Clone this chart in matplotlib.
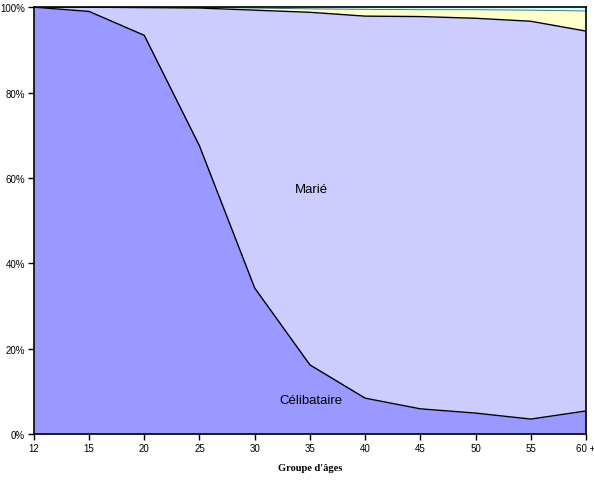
import numpy as np
import matplotlib.pyplot as plt

# Data (percent of each age group)
ages = ["12", "15", "20", "25", "30", "35", "40", "45", "50", "55", "60 +"]
celibataire = [100, 99.0, 93.4, 67.5, 34.2, 16.2, 8.4, 5.9, 4.9, 3.5, 5.4]
marie = [0.0, 1.0, 6.5, 32.3, 65.1, 82.6, 89.5, 91.9, 92.5, 93.2, 89.0]
veuf = [0.0, 0.0, 0.1, 0.15, 0.5, 0.8, 1.6, 1.6, 2.0, 2.6, 4.7]
divorce = [0.0, 0.0, 0.0, 0.05, 0.2, 0.4, 0.5, 0.6, 0.6, 0.7, 0.9]

x = np.arange(len(ages))
c1 = np.array(celibataire)
c2 = c1 + np.array(marie)
c3 = c2 + np.array(veuf)
c4 = c3 + np.array(divorce)

fig = plt.figure(figsize=(5.94, 4.81), dpi=100)
ax = fig.add_axes([0.057, 0.0956, 0.9295, 0.8874])

ax.fill_between(x, 0, c1, color="#9999FF", lw=0)
ax.fill_between(x, c1, c2, color="#CCCCFF", lw=0)
ax.fill_between(x, c2, c3, color="#FFFFCC", lw=0)
ax.fill_between(x, c3, c4, color="#CCFFFF", lw=0)
ax.plot(x, c1, color="black", lw=1)
ax.plot(x, c2, color="black", lw=1)
ax.plot(x, c3, color="#336666", lw=0.6)

ax.text(5.02, 57.4, "Marié", ha="center", va="center", fontsize=9.5, family="Liberation Sans")
ax.text(5.02, 8.0, "Célibataire", ha="center", va="center", fontsize=9.5, family="Liberation Sans")

ax.set_xlim(0, 10)
ax.set_ylim(0, 100)
ax.set_xticks(x)
ax.set_xticklabels(ages, fontsize=7, family="Liberation Sans")
ax.set_yticks(range(0, 101, 20))
ax.set_yticklabels([f"{v}%" for v in range(0, 101, 20)], fontsize=7, family="Liberation Sans")
ax.tick_params(direction="out", length=4, width=1, pad=2.5)
for s in ax.spines.values():
    s.set_linewidth(1.2)
ax.set_xlabel("Groupe d'âges", fontsize=7.5, family="Liberation Serif", fontweight="bold", labelpad=7)

fig.savefig("out.png", dpi=100)
